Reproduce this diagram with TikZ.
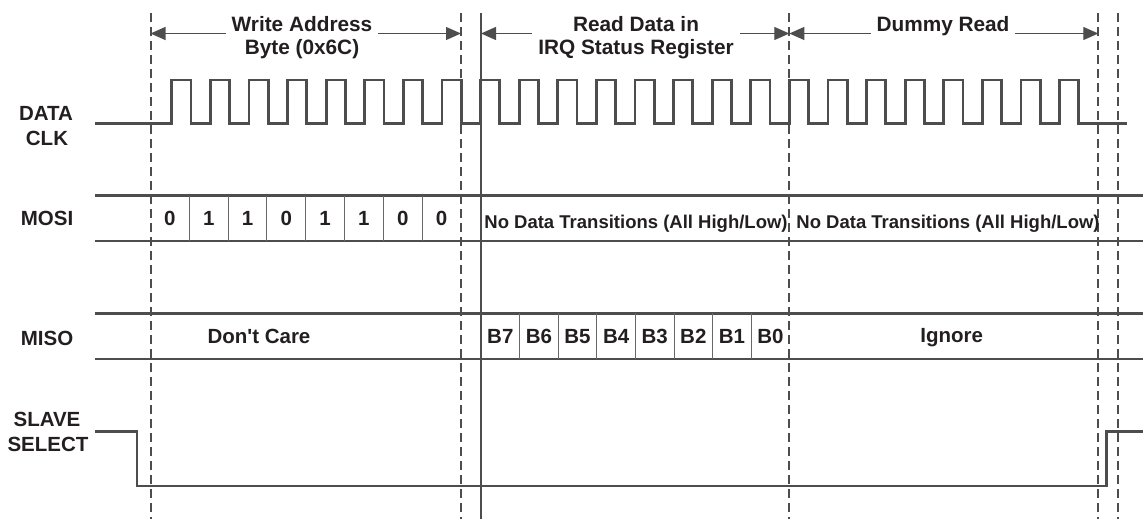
\documentclass[tikz,border=0pt]{standalone}
\usepackage{fontspec}
\setmainfont{Liberation Sans}
\usetikzlibrary{arrows.meta}
\definecolor{ln}{HTML}{4D4D4D}
\definecolor{tx}{HTML}{231F20}
\tikzset{
  sig/.style={draw=ln, line width=1.4pt},
  guide/.style={draw=ln, line width=1pt, dash pattern=on 4.5pt off 2.5pt},
  thinsep/.style={draw=ln!85, line width=0.5pt},
  span/.style={draw=ln, line width=0.6pt, {Triangle[length=7.5pt,width=6.5pt]}-{Triangle[length=7.5pt,width=6.5pt]}},
  lbl/.style={text=tx, font=\bfseries\fontsize{10.25}{12.5}\selectfont, inner sep=0pt, anchor=base},
  ttl/.style={text=tx, font=\bfseries\fontsize{10.4}{11.65}\selectfont, fill=white, inner sep=3pt, align=center, anchor=base},
  small/.style={text=tx, font=\bfseries\fontsize{9.25}{11}\selectfont, inner sep=0pt, anchor=base}
}
\begin{document}
\begin{tikzpicture}[x=0.5pt, y=-0.5pt]
\useasboundingbox (0,0) rectangle (1143,519);
% guide lines
\foreach \n/\gx in {g1/150.5, g2/461, g3/789.3, g4/1098.3, g5/1117.7} {
  \coordinate (\n t) at (\gx,13);
  \coordinate (\n b) at (\gx,519);
  \coordinate (\n a) at (\gx,33.5);
  \draw[guide] (\n t) -- (\n b);
}
\coordinate (rt) at (481,13);
\coordinate (rb) at (481,519);
\coordinate (ra) at (481,33.5);
\draw[ln, line width=0.6pt] (rt) -- (rb);
% span arrows
\draw[span] (g1a) -- (g2a);
\draw[span] (ra) -- (g3a);
\draw[span] (g3a) -- (g4a);
\node[ttl] (t1) at (302,55) {Write Address\\Byte (0x6C)};
\node[ttl] (t2) at (636,55) {Read Data in\\IRQ Status Register};
\node[ttl] (t3) at (943,31.7) {Dummy Read};
% labels
\node[lbl] (l1) at (46,120) {DATA};
\node[lbl] (l2) at (47,145) {CLK};
\node[lbl] (l3) at (47,225) {MOSI};
\node[lbl] (l4) at (47,345) {MISO};
\node[lbl] (l5) at (47,426.7) {SLAVE};
\node[lbl] (l6) at (48,451) {SELECT};
% clock
\draw[sig] (95,123.5)
  foreach \k in {0,...,23} {
    -- ({171.7+38.6*\k},123.5) -- ({171.7+38.6*\k},80)
    -- ({191+38.6*\k},80) -- ({191+38.6*\k},123.5)
  } -- (1126.7,123.5);
% MOSI row
\draw[sig] (95,195.7) -- (1143,195.7);
\draw[sig] (95,241) -- (1143,241);
\foreach \k in {1,...,7} {
  \draw[thinsep] ({150.5+38.8*\k},195.7) -- ({150.5+38.8*\k},241);
}
\foreach \b [count=\i from 0] in {0,1,1,0,1,1,0,0} {
  \node[lbl] (m\i) at ({150.5+38.8*(\i+0.5)},225.5) {\b};
}
\node[small] (nd1) at (636,228) {No Data Transitions (All High/Low)};
\node[small] (nd2) at (948,228) {No Data Transitions (All High/Low)};
% MISO row
\draw[sig] (95,313.3) -- (1143,313.3);
\draw[sig] (95,359) -- (1143,359);
\foreach \k in {1,...,7} {
  \draw[thinsep] ({481+38.6*\k},313.3) -- ({481+38.6*\k},359);
}
\foreach \b [count=\i from 0] in {7,6,5,4,3,2,1,0} {
  \node[lbl] (b\i) at ({481+38.6*(\i+0.5)},343) {B\b};
}
\node[lbl] (dc) at (259,343) {Don\textquotesingle t Care};
\node[lbl] (ig) at (951.7,342.5) {Ignore};
% slave select
\draw[sig] (95,431.7) -- (137,431.7) -- (137,486) -- (1106.7,486) -- (1106.7,431.7) -- (1143,431.7);
\end{tikzpicture}
\end{document}
